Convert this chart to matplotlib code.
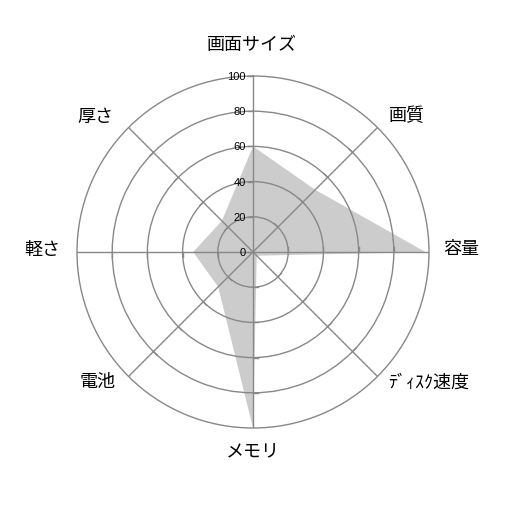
import numpy as np
import matplotlib
matplotlib.use("Agg")
import matplotlib.pyplot as plt

plt.rcParams['font.family'] = ['Noto Sans CJK JP', 'DejaVu Sans']

# Datos del grafico (sentido horario desde arriba)
categorias = ["画面サイズ", "画質", "容量", "ﾃﾞｨｽｸ速度", "メモリ", "電池", "軽さ", "厚さ"]
valores = [60, 50, 98, 3, 100, 28, 34, 25]
escala = [0, 20, 40, 60, 80, 100]

# Desplazamiento de cada etiqueta respecto a la punta del eje (pixeles)
offsets = [(-1, 32), (30, 12), (32, 4), (51, -5), (0, -23), (-31, -5), (-35, 3), (-33, 12)]

GRIS = "#888888"
RELLENO = "#cccccc"
TICK = 2.8  # largo de las marcas en unidades del eje

n = len(categorias)
theta = np.arange(n) * 2 * np.pi / n

fig = plt.figure(figsize=(5.06, 5.06), dpi=100)
r_ax = 176 / 506
ax = fig.add_axes([0.5 - r_ax, 0.5 - r_ax, 2 * r_ax, 2 * r_ax], projection='polar')
ax.set_theta_zero_location('N')
ax.set_theta_direction(-1)
ax.set_ylim(0, 100)

# Area de los valores
ax.fill(np.append(theta, theta[0]), valores + valores[:1], color=RELLENO, lw=0, zorder=1)

# Grilla
ax.set_rgrids(escala[1:-1], labels=[""] * (len(escala) - 2))
ax.set_thetagrids(np.degrees(theta), labels=[""] * n)
ax.grid(True, color=GRIS, lw=1)
ax.spines['polar'].set_color(GRIS)
ax.spines['polar'].set_linewidth(1)
ax.tick_params(length=0)

# Marcas pequenas sobre cada eje
for i, t in enumerate(theta):
    marcas = escala if i == 0 else escala[1:-1]
    for r in marcas:
        t2 = t - np.arctan2(TICK, r)
        r2 = np.hypot(r, TICK)
        ax.plot([t, t2], [r, r2], color=GRIS, lw=1, zorder=3, clip_on=False)

# Etiquetas de escala
for r in escala:
    ax.annotate(str(r), xy=(0, r), xytext=(-7, 0), textcoords='offset pixels',
                ha='right', va='center', fontsize=8, family='Liberation Sans',
                color='black', annotation_clip=False)

# Etiquetas de categorias
for t, cat, off in zip(theta, categorias, offsets):
    ax.annotate(cat, xy=(t, 100), xytext=off, textcoords='offset pixels',
                ha='center', va='center', fontsize=13, color='black',
                annotation_clip=False)

fig.savefig("out.png", dpi=100, facecolor='white')
